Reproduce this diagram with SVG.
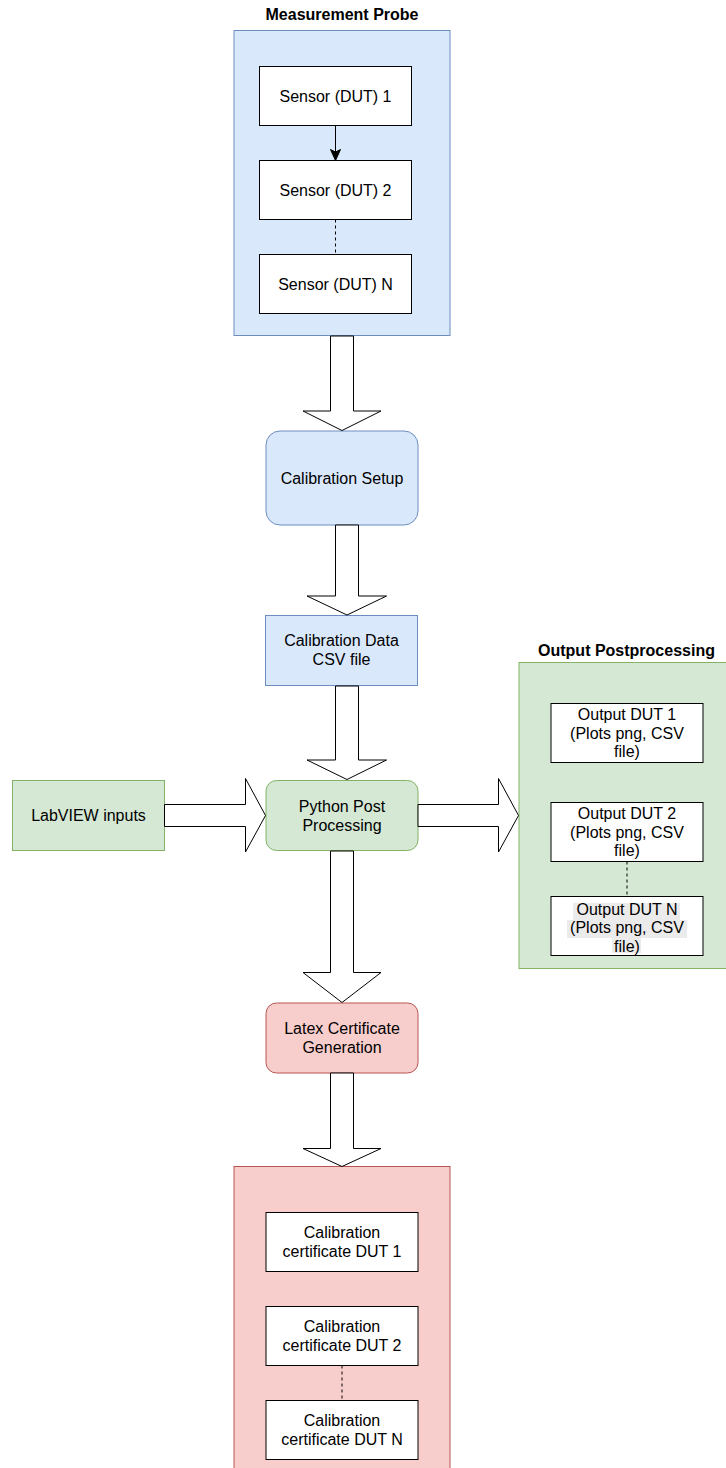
<svg xmlns="http://www.w3.org/2000/svg" width="726" height="1468" viewBox="0 0 726 1468">
<style>
text{font-family:"Liberation Sans",Arial,Helvetica,sans-serif;font-size:16px;fill:#000;text-anchor:middle}
.title{font-weight:bold}
.blue{fill:#dae8fc;stroke:#6c8ebf;stroke-width:1}
.green{fill:#d5e8d4;stroke:#82b366;stroke-width:1}
.red{fill:#f8cecc;stroke:#b85450;stroke-width:1}
.box{fill:#fff;stroke:#000;stroke-width:1}
.flex{fill:#fff;stroke:#000;stroke-width:1;stroke-linejoin:miter}
.dash{stroke:#000;stroke-width:1;stroke-dasharray:3 3;fill:none}
.hl{fill:#ebebeb}
</style>
<rect width="726" height="1468" fill="#fff"/>

<g id="measurement-probe">
<rect class="blue" x="234" y="30.5" width="216" height="305"/>
<text class="title" x="342" y="20">Measurement Probe</text>
</g>
<g id="sensor-1">
<rect class="box" x="259.5" y="66.5" width="152" height="59"/>
<text x="335.5" y="101.5">Sensor (DUT) 1</text>
</g>
<g id="sensor-2">
<rect class="box" x="259.5" y="160.5" width="152" height="59"/>
<text x="335.5" y="195.5">Sensor (DUT) 2</text>
</g>
<g id="sensor-n">
<rect class="box" x="259.5" y="254.5" width="152" height="59"/>
<text x="335.5" y="289.5">Sensor (DUT) N</text>
</g>

<g id="calibration-setup">
<rect class="blue" x="266" y="431" width="152" height="94" rx="14" ry="14"/>
<text x="342" y="483.5">Calibration Setup</text>
</g>

<g id="calibration-data">
<rect class="blue" x="265.5" y="615.5" width="152" height="70"/>
<text x="341.5" y="646">Calibration Data</text>
<text x="341.5" y="665">CSV file</text>
</g>

<g id="labview-inputs">
<rect class="green" x="12.5" y="780.5" width="152" height="70"/>
<text x="88.5" y="821">LabVIEW inputs</text>
</g>

<g id="python-post-processing">
<rect class="green" x="266" y="780.5" width="152" height="70" rx="10.5" ry="10.5"/>
<text x="342" y="811.5">Python Post</text>
<text x="342" y="830.5">Processing</text>
</g>

<g id="output-postprocessing">
<rect class="green" x="519" y="662.5" width="220" height="306"/>
<text class="title" x="626.5" y="656">Output Postprocessing</text>
</g>
<g id="output-dut-1">
<rect class="box" x="551" y="703.5" width="152" height="59"/>
<text x="627" y="720">Output DUT 1</text>
<text x="627" y="738.5">(Plots png, CSV</text>
<text x="627" y="757">file)</text>
</g>
<g id="output-dut-2">
<rect class="box" x="551" y="802.5" width="152" height="59"/>
<text x="627" y="819">Output DUT 2</text>
<text x="627" y="837.5">(Plots png, CSV</text>
<text x="627" y="856">file)</text>
</g>
<g id="output-dut-n">
<rect class="box" x="551" y="896.5" width="152" height="59"/>
<rect class="hl" x="573" y="903" width="107" height="17"/>
<rect class="hl" x="567" y="920" width="120" height="18"/>
<rect class="hl" x="612" y="938" width="29" height="15"/>
<text x="627" y="914.5">Output DUT N</text>
<text x="627" y="933">(Plots png, CSV</text>
<text x="627" y="951.5">file)</text>
</g>

<g id="latex-certificate-generation">
<rect class="red" x="266" y="1003" width="152" height="70" rx="10.5" ry="10.5"/>
<text x="342" y="1034">Latex Certificate</text>
<text x="342" y="1053">Generation</text>
</g>

<g id="certificates">
<rect class="red" x="234" y="1166.5" width="216" height="310"/>
</g>
<g id="certificate-dut-1">
<rect class="box" x="266" y="1212.5" width="152" height="59"/>
<text x="342" y="1238">Calibration</text>
<text x="342" y="1257">certificate DUT 1</text>
</g>
<g id="certificate-dut-2">
<rect class="box" x="266" y="1306.5" width="152" height="59"/>
<text x="342" y="1332">Calibration</text>
<text x="342" y="1351">certificate DUT 2</text>
</g>
<g id="certificate-dut-n">
<rect class="box" x="266" y="1400.5" width="152" height="59"/>
<text x="342" y="1426">Calibration</text>
<text x="342" y="1445">certificate DUT N</text>
</g>

<g id="connectors">
<line x1="335.5" y1="125.5" x2="335.5" y2="152" stroke="#000" stroke-width="1"/>
<polygon points="330.5,149.5 335.5,160.5 340.5,149.5 335.5,152" fill="#000" stroke="#000" stroke-width="1"/>
<line class="dash" x1="335.5" y1="219.5" x2="335.5" y2="254.5"/>
<line class="dash" x1="627" y1="861.5" x2="627" y2="896.5"/>
<line class="dash" x1="342" y1="1365.5" x2="342" y2="1400.5"/>

<polygon class="flex" points="330.5,336 353.5,336 353.5,411 381,411 342,430.5 303,411 330.5,411"/>
<polygon class="flex" points="335.5,525 358.5,525 358.5,596 386.5,596 347,615 307,596 335.5,596"/>
<polygon class="flex" points="335.5,686 358.5,686 358.5,760 386.5,760 347,779.5 307,760 335.5,760"/>
<polygon class="flex" points="164.5,804.5 245.5,804.5 245.5,778.5 265.5,815.5 245.5,852 245.5,826.5 164.5,826.5"/>
<polygon class="flex" points="418,804.5 498.5,804.5 498.5,778.5 518.5,815.5 498.5,852 498.5,826.5 418,826.5"/>
<polygon class="flex" points="330.5,851 353.5,851 353.5,972.5 381,972.5 342,1002.5 303,972.5 330.5,972.5"/>
<polygon class="flex" points="330.5,1073 353.5,1073 353.5,1148.5 381,1148.5 342,1166.5 303,1148.5 330.5,1148.5"/>
</g>
</svg>
